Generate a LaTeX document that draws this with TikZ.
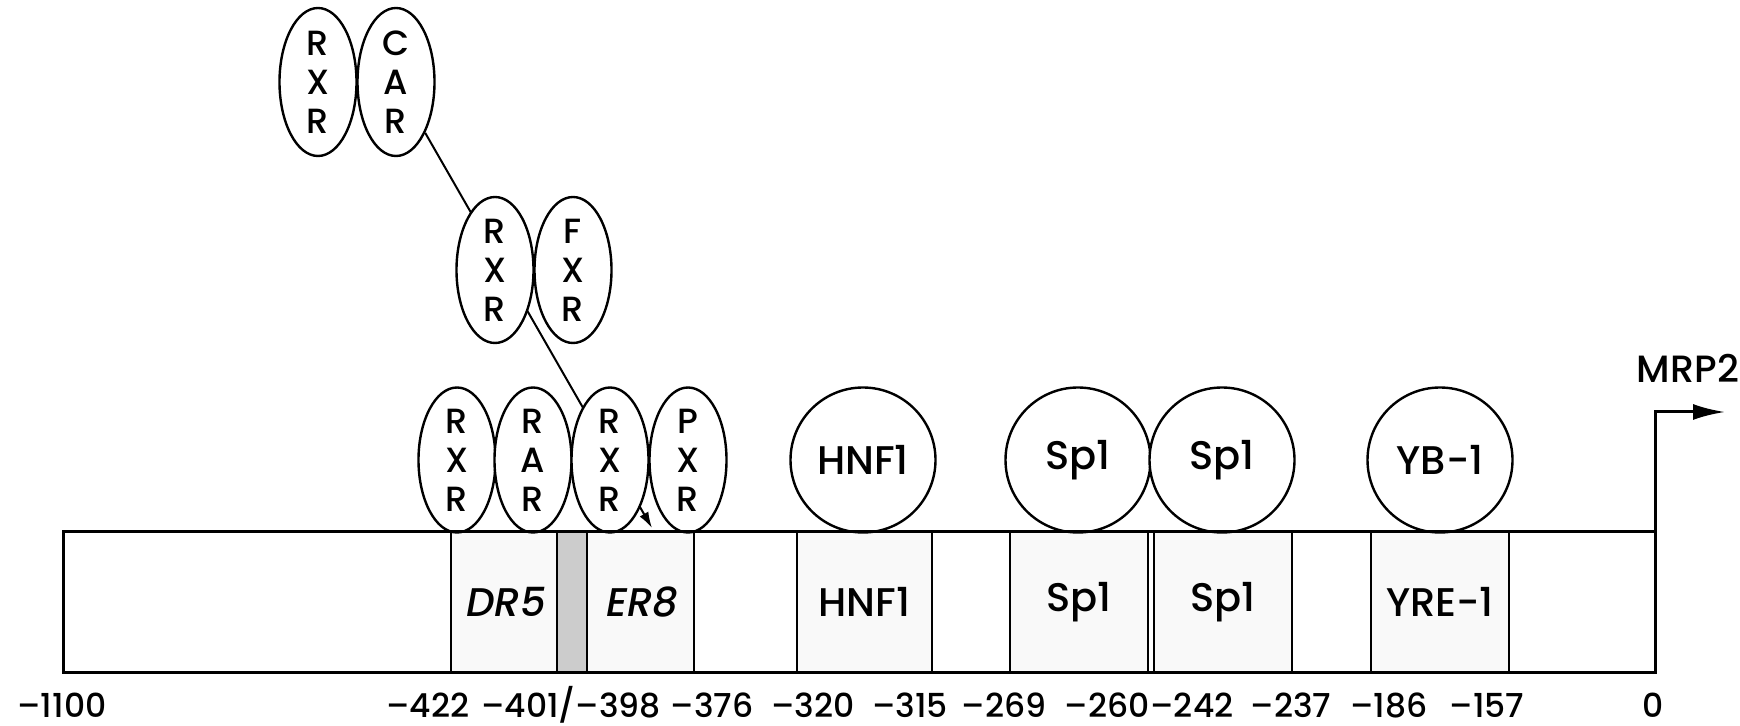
\documentclass[tikz,border=0pt]{standalone}
\usepackage{fontspec}
\setmainfont{Poppins}[UprightFont=* Medium]
\newfontfamily\obl{Poppins}[UprightFont=* Medium, FakeSlant=0.18]
\usetikzlibrary{shapes.geometric,arrows.meta}
\pgfdeclarelayer{background}
\pgfsetlayers{background,main}
\begin{document}
\begin{tikzpicture}[x=0.5pt,y=-0.5pt,
  seg/.style={draw, line width=1.2pt, fill=gray!5, minimum height=70pt, inner sep=0pt, font=\fontsize{20}{24}\selectfont},
  ell/.style={ellipse, draw, line width=1.2pt, fill=white, minimum width=38.5pt, minimum height=72.5pt, inner sep=0pt, align=center, font=\fontsize{17.5}{19.5}\selectfont},
  circ/.style={circle, draw, line width=1.2pt, fill=white, minimum size=72.5pt, inner sep=0pt, font=\fontsize{20}{24}\selectfont},
  lbl/.style={anchor=base, inner sep=0pt, font=\fontsize{16.5}{20}\selectfont},
  conn/.style={line width=1pt, -{Latex[length=8pt,width=5pt]}}
]
\useasboundingbox (0,0) rectangle (1740,726);

% promoter segments
\node[seg, minimum width=53pt] (dr5) at (504,602) {\obl DR5};
\node[seg, minimum width=15pt, fill=gray!40] (spacer) at (572,602) {};
\node[seg, minimum width=53.5pt] (er8) at (640.5,602) {\obl ER8};
\node[seg, minimum width=67.5pt] (hnfbox) at (864.5,602) {HNF1};
\node[seg, minimum width=69pt] (spbox1) at (1079,602) {Sp1};
\node[seg, minimum width=69pt] (spbox2) at (1223,602) {Sp1};
\node[seg, minimum width=69pt] (yrebox) at (1440,602) {YRE-1};

% nuclear receptors
\node[ell, minimum height=74pt] (rxr1) at (318,82) {R\\X\\R};
\node[ell, minimum height=74pt] (car) at (396,82) {C\\A\\R};
\node[ell, minimum height=73pt] (rxr2) at (495,270) {R\\X\\R};
\node[ell, minimum height=73pt] (fxr) at (573,270) {F\\X\\R};
\node[ell] (rxr3) at (457,460) {R\\X\\R};
\node[ell] (rar) at (533,460) {R\\A\\R};
\node[ell] (rxr4) at (610,460) {R\\X\\R};
\node[ell] (pxr) at (688,460) {P\\X\\R};

% other factors
\node[circ] (hnf1) at (863,460) {HNF1};
\node[circ] (sp1a) at (1078,460) {Sp1};
\node[circ] (sp1b) at (1222,460) {Sp1};
\node[circ] (yb1) at (1440,460) {YB-1};

% connector behind the receptors
\coordinate (tip) at (652,528);
\begin{pgfonlayer}{background}
\draw[conn] (car) -- (tip);
\end{pgfonlayer}

% outer promoter box
\draw[line width=1.5pt] (63,532) rectangle (1655,672);

% transcription start
\coordinate (tss) at (1655,532);
\coordinate (mrpend) at (1725,412);
\draw[line width=1.5pt, -{Latex[length=16pt,width=8pt]}] (tss) |- (mrpend);
\node[inner sep=0pt, font=\fontsize{19}{22}\selectfont] (mrp2) at (1688,368) {MRP2};

% position labels
\node[lbl] (l1) at (62,717) {–1100};
\node[lbl] (l2) at (428,717) {–422};
\node[lbl] (l3) at (571,717) {–401/–398};
\node[lbl] (l4) at (712,717) {–376};
\node[lbl] (l5) at (813,717) {–320};
\node[lbl] (l6) at (910,717) {–315};
\node[lbl] (l7) at (1004,717) {–269};
\node[lbl] (l8) at (1107,717) {–260};
\node[lbl] (l9) at (1192,717) {–242};
\node[lbl] (l10) at (1291,717) {–237};
\node[lbl] (l11) at (1389,717) {–186};
\node[lbl] (l12) at (1487,717) {–157};
\node[lbl] (l13) at (1653,717) {0};
\end{tikzpicture}
\end{document}
